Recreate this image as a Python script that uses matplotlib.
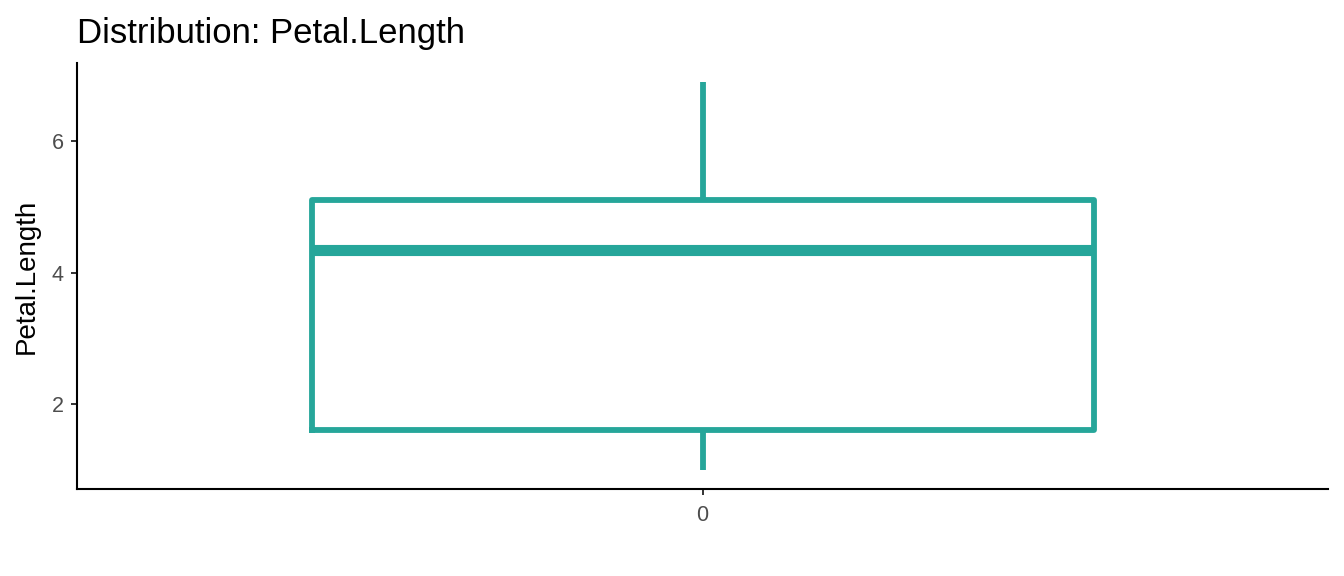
import matplotlib.pyplot as plt

# iris Petal.Length summary
groups = ["0"]
mins = [1.0]
q1s = [1.6]
medians = [4.35]
q3s = [5.1]
maxs = [6.9]

teal = "#26A69A"
plt.rcParams["font.family"] = ["Liberation Sans", "DejaVu Sans"]

fig = plt.figure(figsize=(13.44, 5.76), dpi=100)
ax = fig.add_axes([0.0573, 0.151, 0.931, 0.740])

stats = []
for g, lo, a, m, b, hi in zip(groups, mins, q1s, medians, q3s, maxs):
    stats.append({"label": g, "whislo": lo, "q1": a, "med": m, "q3": b, "whishi": hi, "fliers": []})

ax.bxp(stats, positions=[1], widths=0.75, showcaps=False,
       boxprops=dict(color=teal, linewidth=4.2),
       whiskerprops=dict(color=teal, linewidth=4.2, solid_capstyle="butt"),
       medianprops=dict(color=teal, linewidth=8, solid_capstyle="butt"))

ax.set_xlim(0.4, 1.6)
lo_all, hi_all = min(mins), max(maxs)
pad = (hi_all - lo_all) * 0.05
ax.set_ylim(lo_all - pad, hi_all + pad)
ax.set_yticks([2, 4, 6])
ax.set_xticks([1])
ax.set_xticklabels(groups)

for side in ["top", "right"]:
    ax.spines[side].set_visible(False)
for side in ["left", "bottom"]:
    ax.spines[side].set_linewidth(1.5)
ax.tick_params(colors="#333333", labelcolor="#4D4D4D", labelsize=15.5, length=4.5, width=1.4, pad=5)
ax.tick_params(axis="x", pad=7)

ax.set_ylabel("Petal.Length", fontsize=20, labelpad=9)
ax.set_title("Distribution: Petal.Length", loc="left", fontsize=25, pad=14)

fig.savefig("out.png", dpi=100)
